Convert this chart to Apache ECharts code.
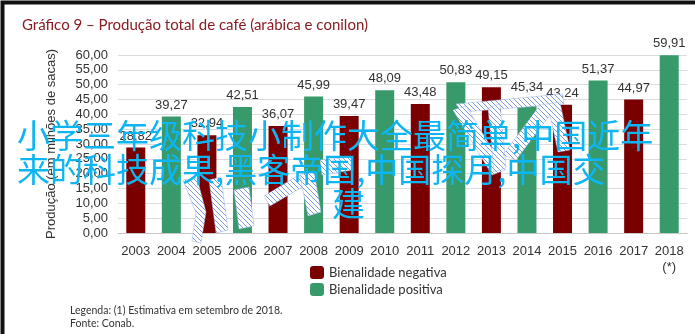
<!DOCTYPE html>
<html>
<head>
<meta charset="utf-8">
<script src="https://cdn.jsdelivr.net/npm/echarts@6/dist/echarts.min.js"></script>
<style>
  html, body { margin: 0; padding: 0; background: #fff; }
  #chart { width: 695px; height: 334px; }
</style>
</head>
<body>
<div id="chart"></div>
<script>
// Coffee production by crop year (million 60kg bags), Conab
const years = ['2003','2004','2005','2006','2007','2008','2009','2010',
               '2011','2012','2013','2014','2015','2016','2017','2018'];
const production = [28.82, 39.27, 32.94, 42.51, 36.07, 45.99, 39.47, 48.09,
                    43.48, 50.83, 49.15, 45.34, 43.24, 51.37, 44.97, 59.91];
const bienality = ['neg','pos','neg','pos','neg','pos','neg','pos',
                   'neg','pos','neg','pos','neg','pos','neg','pos'];
const yTicks = [0, 5, 10, 15, 20, 25, 30, 35, 40, 45, 50, 55, 60];
const estimatedYears = ['2018'];

const RED = '#7a0000';
const GREEN = '#389a6a';
const BANNER = '#0db5f2';
const fmt = v => v.toFixed(2).replace('.', ',');

const negData = production.map((v, i) => bienality[i] === 'neg' ? v : '-');
const posData = production.map((v, i) => bienality[i] === 'pos' ? v : '-');

// diagonal hatch tile for the sketch strokes
function hatchTile() {
  const c = document.createElement('canvas');
  c.width = 5; c.height = 5;
  const g = c.getContext('2d');
  g.fillStyle = '#ffffff';
  g.fillRect(0, 0, 5, 5);
  g.strokeStyle = '#7f9be0';
  g.lineWidth = 1;
  g.beginPath();
  g.moveTo(0, 0); g.lineTo(5, 5);
  g.moveTo(-1, 4); g.lineTo(1, 6);
  g.moveTo(4, -1); g.lineTo(6, 1);
  g.stroke();
  return c;
}
const hatch = { image: hatchTile(), repeat: 'repeat' };

// sketch strokes drawn on top of the bars
const sketch = [
  [[183,180],[197,178],[206,212],[201,243],[192,241],[196,213]],
  [[209,180],[221,177],[228,230],[216,233]],
  [[234,190],[249,187],[254,226],[239,229]],
  [[264,196],[299,175],[304,186],[270,206]],
  [[300,175],[314,171],[321,212],[308,216]],
  [[320,160],[352,157],[353,170],[322,175]],
  [[456,104],[562,94],[564,104],[462,112]],
  [[453,110],[466,106],[505,170],[492,175]],
  [[488,108],[500,104],[506,168],[494,172]],
  [[503,155],[540,105],[560,102],[570,150],[558,152],[550,115],[516,160]]
];

const chart = echarts.init(document.getElementById('chart'), null, { renderer: 'canvas' });

const barLabel = {
  show: true, position: 'top', distance: 5,
  fontFamily: 'Liberation Sans, Arial, sans-serif', fontSize: 13, color: '#333',
  formatter: p => fmt(p.value)
};

const banner = (text, left, top) => ({
  type: 'text', left, top, z: 60, silent: true,
  style: { text, font: '33px "Noto Sans CJK SC", sans-serif', fill: BANNER }
});

chart.setOption({
  animation: false,
  backgroundColor: '#fff',
  title: {
    text: 'Gráfico 9 – Produção total de café (arábica e conilon)',
    left: 17, top: 13,
    textStyle: { fontFamily: 'Lato, Noto Sans, sans-serif', fontSize: 15, fontWeight: 'normal', color: '#8a1c24' }
  },
  legend: {
    orient: 'vertical', left: 305, top: 261, itemWidth: 14, itemHeight: 13, itemGap: 4,
    textStyle: { fontFamily: 'Lato, Noto Sans, sans-serif', fontSize: 13, color: '#333' },
    data: ['Bienalidade negativa', 'Bienalidade positiva']
  },
  grid: { left: 118, right: 8, top: 55, bottom: 101 },
  xAxis: {
    type: 'category', data: years,
    axisLine: { lineStyle: { color: '#c8c8c8' } },
    axisTick: { show: false },
    axisLabel: {
      interval: 0, margin: 10, fontFamily: 'Liberation Sans, Arial, sans-serif', fontSize: 13, color: '#333', lineHeight: 16,
      formatter: v => estimatedYears.includes(v) ? v + '\n(*)' : v
    }
  },
  yAxis: {
    type: 'value', min: yTicks[0], max: yTicks[yTicks.length - 1], interval: 5,
    name: 'Produção (em milhões de sacas)', nameLocation: 'middle', nameGap: 60,
    nameTextStyle: { fontFamily: 'Liberation Sans, Arial, sans-serif', fontSize: 13, color: '#333' },
    axisLine: { show: false }, axisTick: { show: false },
    axisLabel: { margin: 10, fontFamily: 'Liberation Sans, Arial, sans-serif', fontSize: 13, color: '#333', formatter: v => fmt(v) },
    splitLine: { lineStyle: { color: '#dcdcdc' } }
  },
  series: [
    { name: 'Bienalidade negativa', type: 'bar', data: negData, barWidth: 19, barGap: '-100%',
      itemStyle: { color: RED }, label: barLabel },
    { name: 'Bienalidade positiva', type: 'bar', data: posData, barWidth: 19, barGap: '-100%',
      itemStyle: { color: GREEN }, label: barLabel }
  ],
  graphic: [
    { type: 'rect', left: 0, top: 0, silent: true, z: 100,
      shape: { width: 695, height: 334 },
      style: { fill: 'none', stroke: '#111', lineWidth: 4 } },
    { type: 'text', left: 70, top: 305, style: { text: 'Legenda: (1) Estimativa em setembro de 2018.', font: '10.5px Lato, Noto Sans, sans-serif', fill: '#333' } },
    { type: 'text', left: 70, top: 318, style: { text: 'Fonte: Conab.', font: '10.5px Lato, Noto Sans, sans-serif', fill: '#333' } },
    ...sketch.map(pts => ({
      type: 'polygon', z: 50, silent: true,
      shape: { points: pts },
      style: { fill: hatch, stroke: '#9db2e8', lineWidth: 0.5 }
    })),
    banner('小学三年级科技小制作大全最简单,中国近年', 17, 119),
    banner('来的科技成果,黑客帝国,中国探月,中国交', 17, 153),
    banner('建', 332, 187)
  ]
});
</script>
</body>
</html>
